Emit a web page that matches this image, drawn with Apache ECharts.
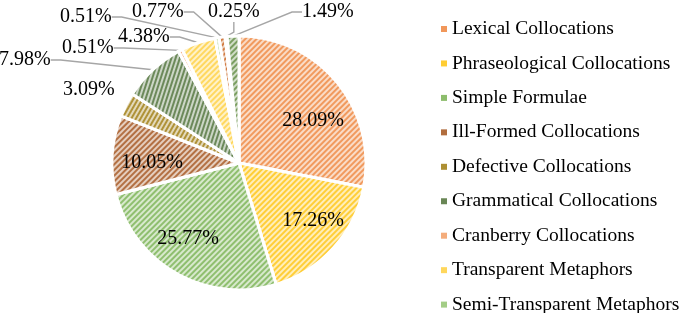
<!DOCTYPE html>
<html><head><meta charset="utf-8">
<script src="https://cdn.jsdelivr.net/npm/echarts@6/dist/echarts.min.js"></script>
<style>html,body{margin:0;padding:0;background:#fff}#c{width:685px;height:313px}</style>
</head><body><div id="c"></div>
<script>
const categories = ['Lexical Collocations','Phraseological Collocations','Simple Formulae','Ill-Formed Collocations','Defective Collocations','Grammatical Collocations','Cranberry Collocations','Transparent Metaphors','Semi-Transparent Metaphors','Opaque Metaphors','Idioms','Proverbs'];
const values = [28.09,17.26,25.77,10.05,3.09,7.98,0.51,4.38,0.51,0.77,0.25,1.49];
const legendNames = categories.slice(0,9);
const colors = ['#ED7D31','#FFC000','#70AD47','#9E480E','#997300','#43682B','#F1975A','#FFCD33','#8CC168','#C55A11','#BF9000','#548235'];
const stripeAngles = [-45,-45,-45,-45,-60,-72,-45,-45,-45,-45,-45,-45];

// label layout (pixel positions of label text: [x, y, align])
const CX=239, CY=163, R=127;
const innerCount = 4;
const labelPos = [[313,121,'center'],[313,221,'center'],[188,239,'center'],[152,163,'center'],
  [63,90,'left'],[-1,60,'left'],[62,48,'left'],[118,37,'left'],[60,17,'left'],[132,12,'left'],[208,12,'left'],[302,12,'left']];

function mix(hex, t){ // t = share of colour, rest white
  const n=parseInt(hex.slice(1),16), r=n>>16, g=(n>>8)&255, b=n&255;
  const f=c=>Math.round(c*t+255*(1-t));
  return 'rgb('+f(r)+','+f(g)+','+f(b)+')';
}

const data = values.map((v,i)=>({
  name: categories[i], value: v,
  itemStyle: {color: colors[i], decal: {symbol:'rect', symbolSize:1, dashArrayX:[1,0], dashArrayY:[2,2],
    rotation: stripeAngles[i]*Math.PI/180, color: mix(colors[i],0.78), backgroundColor: mix(colors[i],0.27)}},
  label: {position: i<innerCount ? 'inside' : 'outside'},
  labelLine: {show: i>=innerCount && i!==4}
}));

const chart = echarts.init(document.getElementById('c'));
chart.setOption({
  animation:false,
  legend:{orient:'vertical', left:441, top:19, height:310, padding:0, itemWidth:6, itemHeight:6, itemGap:14.45,
    data: legendNames.map((n,i)=>({name:n, itemStyle:{color:colors[i], opacity:0.8, decal:'none'}})),
    itemStyle:{decal:'none', borderWidth:0},
    textStyle:{fontFamily:'Liberation Serif', fontSize:19.5, color:'#000'}, icon:'rect'},
  series:[{
    type:'pie', center:[CX,CY], radius:R, startAngle:90, data:data,
    itemStyle:{borderColor:'#fff', borderWidth:3},
    label:{formatter: p=>p.value.toFixed(2)+'%', fontFamily:'Liberation Serif', fontSize:20, color:'#000'},
    labelLine:{lineStyle:{color:'#A6A6A6', width:1.4}, length:10, length2:10},
    labelLayout: function(p){
      const q=labelPos[p.dataIndex];
      return {x:q[0], y:q[1], align:q[2], verticalAlign:'middle'};
    }
  }]
});
</script></body></html>
